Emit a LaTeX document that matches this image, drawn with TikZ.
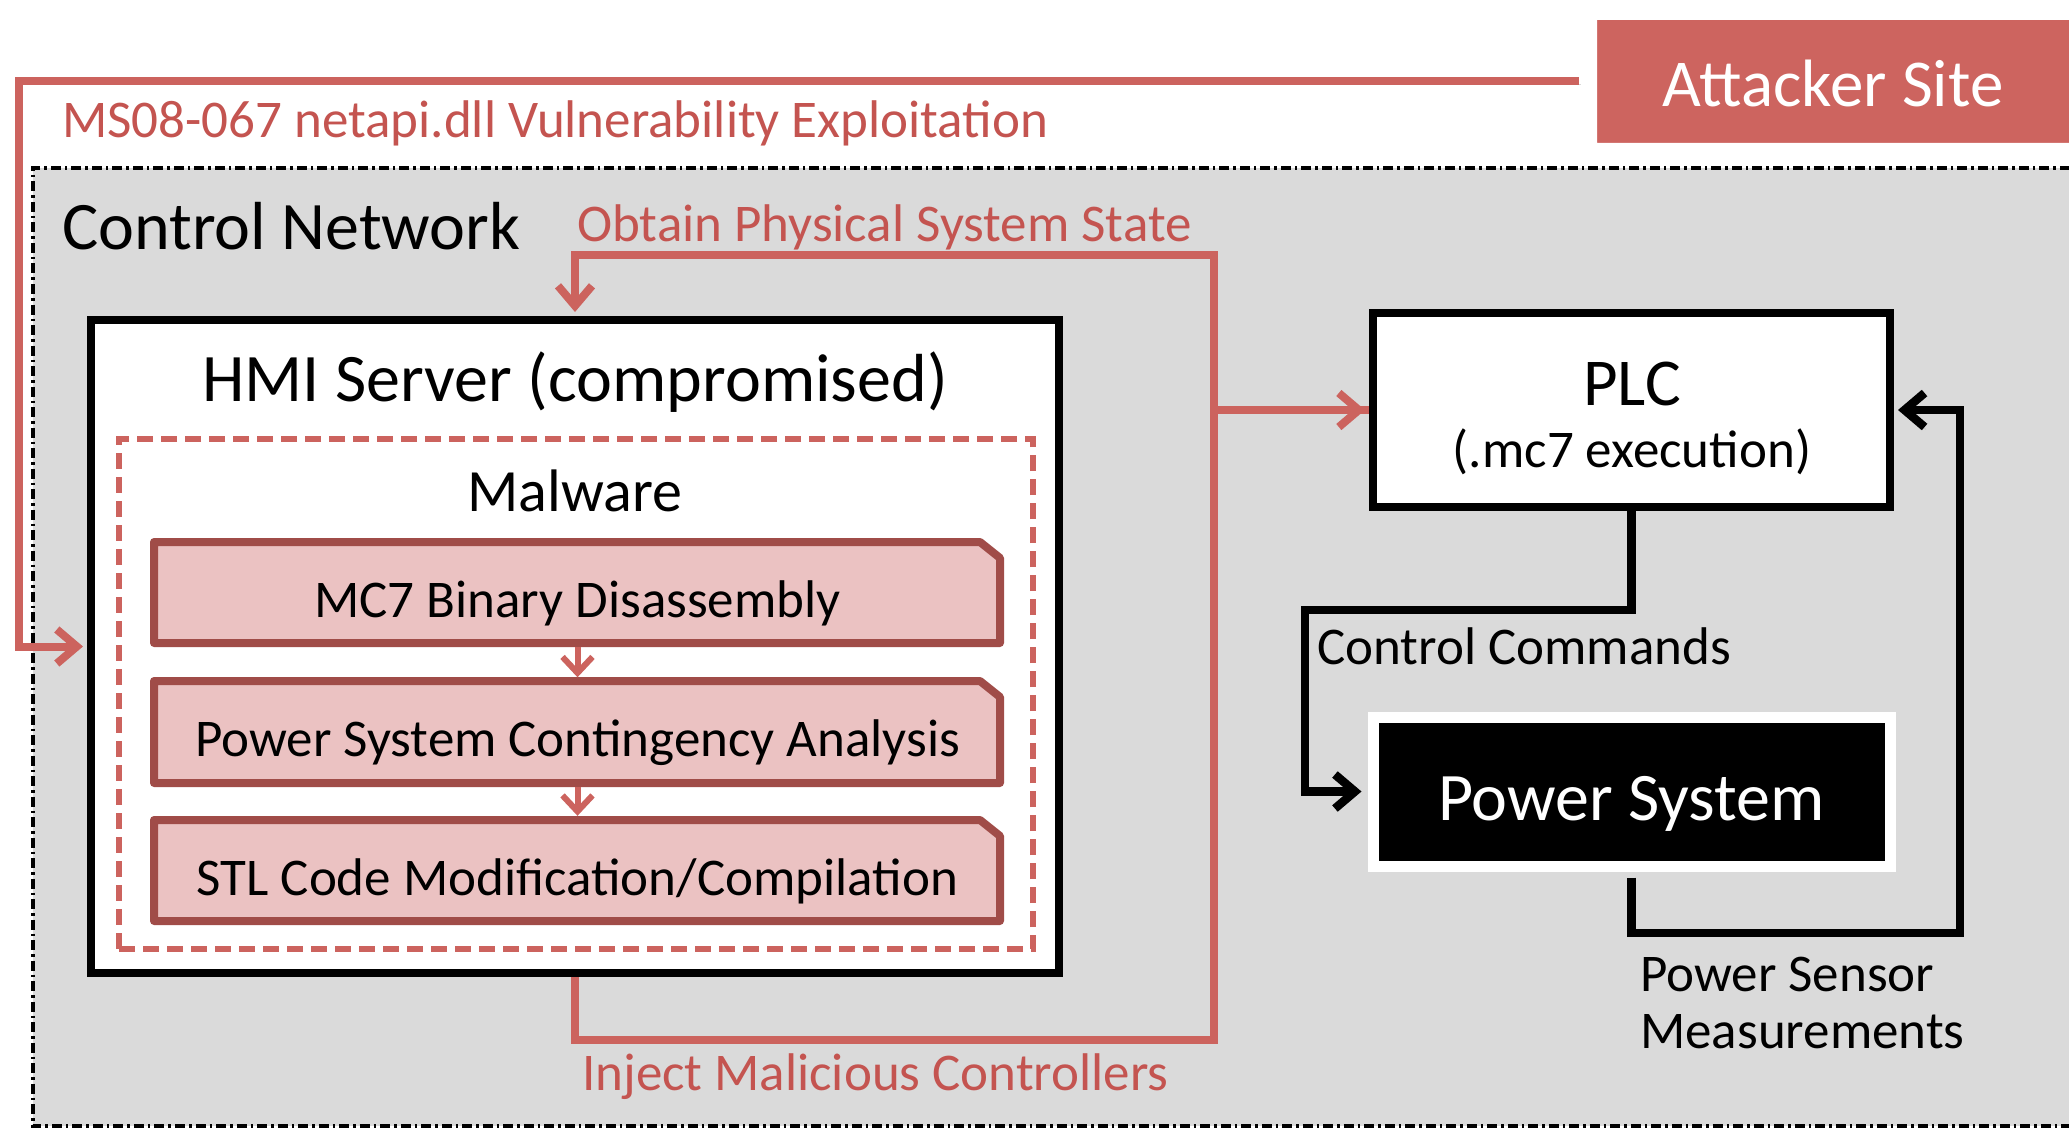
\documentclass[tikz,border=0pt]{standalone}
\usepackage{fontspec}
\setmainfont{Carlito}
\usetikzlibrary{arrows.meta,shadows}
\definecolor{redln}{RGB}{204,99,94}
\definecolor{redtx}{RGB}{196,84,80}
\definecolor{attfill}{RGB}{205,100,95}
\definecolor{dred}{RGB}{160,76,72}
\definecolor{pinkf}{RGB}{235,194,194}
\definecolor{netgray}{RGB}{218,218,218}
\newcommand{\fsz}[2]{\fontsize{#1pt}{#2pt}\selectfont}
\tikzset{
  netborder/.style={line width=3.2pt, dash pattern=on 10pt off 4pt on 2.5pt off 4pt},
  attbox/.style={fill=attfill, draw=white, line width=12pt, rounded corners=2pt, text=white,
     minimum width=484pt, minimum height=135pt, inner sep=0pt, font=\fsz{67}{80},
     text height=50pt, text depth=0pt,
     drop shadow={opacity=0.35, shadow xshift=2pt, shadow yshift=-3pt}},
  hmibox/.style={draw=black, fill=white, line width=8pt, minimum width=968pt, minimum height=653pt, inner sep=0pt},
  malbox/.style={draw=redln, line width=6.5pt, dash pattern=on 16pt off 8pt, minimum width=914pt, minimum height=510pt, inner sep=0pt},
  stepframe/.style={draw=dred, fill=pinkf, line width=8pt, line join=round},
  steptext/.style={minimum width=851pt, minimum height=109pt, inner sep=0pt, font=\fsz{53}{64},
     text height=49pt, text depth=0pt},
  plcbox/.style={draw=black, fill=white, line width=8pt, minimum width=517pt, minimum height=194pt, inner sep=0pt},
  psbox/.style={draw=white, fill=black, line width=11pt, text=white, minimum width=517pt, minimum height=149pt,
     inner sep=0pt, font=\fsz{68}{80}, text height=57pt, text depth=0pt,
     drop shadow={opacity=0.3, shadow xshift=2pt, shadow yshift=-3pt}},
  lbl/.style={anchor=base west, inner sep=0pt, font=\fsz{53}{64}},
  lblred/.style={lbl, text=redtx},
  title/.style={anchor=base, inner sep=0pt},
  lineshadow/.style={preaction={draw=black, draw opacity=0.15, transform canvas={xshift=1.5pt,yshift=-2.5pt}}},
  redarr/.style={lineshadow, draw=redln, line width=8pt, -{Straight Barb[length=20pt,width=34pt]}},
  blkarr/.style={lineshadow, draw=black, line width=8.5pt, -{Straight Barb[length=20pt,width=34pt]}},
  smallarr/.style={draw=redln, line width=6pt, -{Straight Barb[length=16pt,width=30pt]}}
}
\begin{document}
\begin{tikzpicture}[x=1pt,y=-1pt]
\useasboundingbox (0,0) rectangle (2069,1129);
\clip (0,0) rectangle (2069,1129);
\fill[white] (0,0) rectangle (2069,1129);

% control network area
\fill[netgray] (33,168) rectangle (2090,1126);
\draw[netborder] (2090,168) -- (33,168) -- (33,1126) -- (2090,1126);
\node[anchor=base west, inner sep=0pt, font=\fsz{68}{80}] (cn) at (62,249) {Control Network};

% attacker site
\node[attbox] (att) at (1833,81.5) {Attacker Site};

% HMI server
\node[hmibox] (hmi) at (575,646.5) {};
\node[title, font=\fsz{68}{80}] (hmit) at (575,401) {HMI Server (compromised)};
\node[malbox] (mal) at (576,694) {};
\node[title, font=\fsz{60}{72}] (malt) at (575,511) {Malware};

% malware steps
\path[stepframe] (154,542) -- (980,542) -- (1000,558) -- (1000,643) -- (154,643) -- cycle;
\path[stepframe] (154,681) -- (980,681) -- (1000,697) -- (1000,783) -- (154,783) -- cycle;
\path[stepframe] (154,820) -- (980,820) -- (1000,836) -- (1000,921) -- (154,921) -- cycle;
\node[steptext] (b1) at (577.5,592.5) {MC7 Binary Disassembly};
\node[steptext] (b2) at (577.5,732) {Power System Contingency Analysis};
\node[steptext] (b3) at (577.5,870.5) {STL Code Modification/Compilation};
\draw[smallarr] (b1.south) -- (b2.north);
\draw[smallarr] (b2.south) -- (b3.north);

% PLC and power system
\node[plcbox] (plc) at (1631.5,410) {};
\node[title, font=\fsz{67}{80}] (plct) at (1632,405) {PLC};
\node[title, font=\fsz{53}{64}] (plcs) at (1632,467) {(.mc7 execution)};
\node[psbox] (ps) at (1631.5,791.5) {Power System};

% connectors
\coordinate (a1) at (19,81.5);
\draw[redarr] ([xshift=-6pt]att.west) -- (a1) |- ([xshift=-4pt]hmi.west);
\coordinate (r1) at (1214,255);
\coordinate (r2) at (1214,1040);
\draw[redarr] (plc.west) -| (r1) -| ([yshift=4pt]hmi.north);
\draw[redarr] (hmi.south) |- (r2) |- ([xshift=-4pt]plc.west);
\coordinate (c1) at (1305,610);
\draw[blkarr] (plc.south) |- (c1) |- ([xshift=-6pt]ps.west);
\coordinate (m1) at (1960,933);
\draw[blkarr] ([yshift=-6pt]ps.south) |- (m1) |- ([xshift=4pt]plc.east);

% labels
\node[lblred] (ms) at (62,138) {MS08-067 netapi.dll Vulnerability Exploitation};
\node[lblred] (obt) at (577,241) {Obtain Physical System State};
\node[lblred] (inj) at (582,1090) {Inject Malicious Controllers};
\node[lbl] (cc) at (1317,664) {Control Commands};
\node[lbl] (psm1) at (1640,991) {Power Sensor};
\node[lbl] (psm2) at (1640,1048) {Measurements};
\end{tikzpicture}
\end{document}
